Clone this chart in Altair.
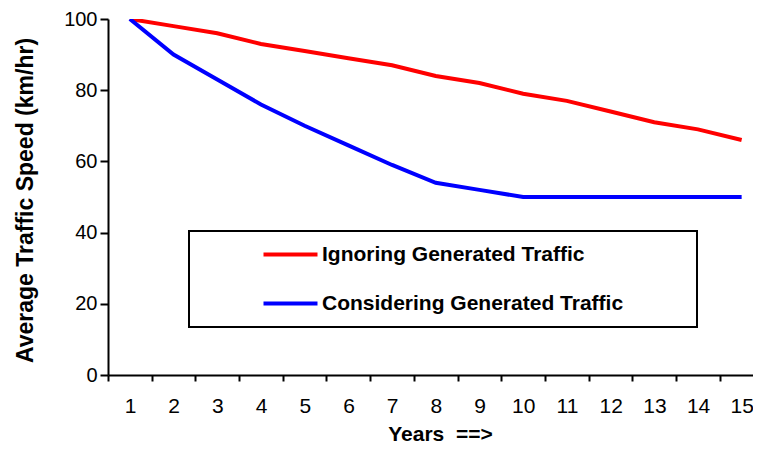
import altair as alt
import pandas as pd

years = list(range(1, 16))
ignoring = [100, 98, 96, 93, 91, 89, 87, 84, 82, 79, 77, 74, 71, 69, 66]
considering = [100, 90, 83, 76, 70, 64.5, 59, 54, 52, 50, 50, 50, 50, 50, 50]
series = ["Ignoring Generated Traffic", "Considering Generated Traffic"]
colors = ["#FF0000", "#0000FF"]
y_ticks = [0, 20, 40, 60, 80, 100]
x_tick_bounds = [0.5 + i for i in range(15)]

df = pd.DataFrame({
    "year": years * 2,
    "speed": ignoring + considering,
    "series": [series[0]] * len(years) + [series[1]] * len(years),
})

FONT = "Liberation Sans, Arial, sans-serif"

chart = alt.Chart(df).mark_line(strokeWidth=4, clip=True).encode(
    x=alt.X(
        "year:Q",
        scale=alt.Scale(domain=[0.5, 15.26], nice=False, zero=False),
        axis=alt.Axis(
            values=x_tick_bounds,
            labelExpr="datum.value + 0.5",
            labelOffset=22,
            labelFlush=False,
            labelOverlap=False,
            labelBaseline="middle",
            labelPadding=25,
            labelFont=FONT,
            labelFontSize=21,
            labelColor="black",
            tickSize=6,
            tickWidth=2,
            tickColor="black",
            domainColor="black",
            domainWidth=2,
            grid=False,
            title="Years\u00a0 ==>",
            titleFont=FONT,
            titleFontSize=21,
            titleFontWeight="bold",
            titleColor="black",
            titleX=332,
            titleY=59,
            titleAlign="center",
            titleBaseline="middle",
        ),
    ),
    y=alt.Y(
        "speed:Q",
        scale=alt.Scale(domain=[0, 100], nice=False),
        axis=alt.Axis(
            values=y_ticks,
            labelFont=FONT,
            labelFontSize=20,
            labelColor="black",
            labelPadding=3,
            tickSize=8,
            tickWidth=2,
            tickColor="black",
            domainColor="black",
            domainWidth=2,
            grid=False,
            title="Average Traffic Speed (km/hr)",
            titleFont=FONT,
            titleFontSize=23,
            titleFontWeight="bold",
            titleColor="black",
            titleAngle=270,
            titleX=-83,
            titleY=181,
            titleAlign="center",
            titleBaseline="middle",
        ),
    ),
    color=alt.Color(
        "series:N",
        scale=alt.Scale(domain=series, range=colors),
        legend=alt.Legend(
            orient="none",
            legendX=81,
            legendY=212,
            title="\u00a0",
            titleOrient="right",
            titlePadding=61,
            titleFontSize=10,
            strokeColor="black",
            fillColor="white",
            padding=13,
            symbolType="M-3.857,0H3.857",
            symbolSize=196,
            symbolStrokeWidth=4,
            symbolOffset=78,
            labelOffset=21,
            labelFont=FONT,
            labelFontSize=21,
            labelFontWeight="bold",
            labelColor="black",
            labelLimit=0,
            rowPadding=27,
        ),
    ),
).properties(
    width=645,
    height=356,
    autosize=alt.AutoSizeParams(type="none"),
    padding={"left": 100, "top": 11, "right": 0, "bottom": 69},
    background="white",
).configure_view(stroke=None).configure_legend(strokeWidth=2)

chart.save("out.html", embed_options={"renderer": "svg", "actions": False})
